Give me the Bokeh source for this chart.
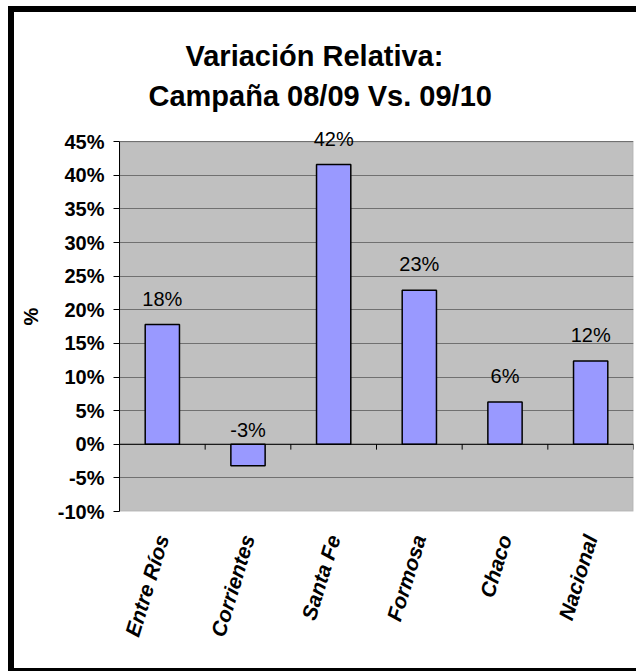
import numpy as np
from bokeh.plotting import figure
from bokeh.models import (ColumnDataSource, FactorRange, Range1d, PrintfTickFormatter,
                          FixedTicker, BoxAnnotation, Span, Title)
from bokeh.transform import dodge
from bokeh.embed import file_html
from bokeh.resources import INLINE
from bokeh.core.properties import value

# ---- data ----
categories = ["Entre Ríos", "Corrientes", "Santa Fe", "Formosa", "Chaco", "Nacional"]
variation_pct = [17.8, -3.2, 41.6, 22.9, 6.3, 12.4]
y_ticks = [-10, -5, 0, 5, 10, 15, 20, 25, 30, 35, 40, 45]
title_lines = ["Variación Relativa:", "Campaña 08/09 Vs. 09/10"]
y_label = "%"

FONT = "Liberation Sans"

vals = np.array(variation_pct, dtype=float)
labels = [f"{int(round(float(v)))}%" for v in vals]
src = ColumnDataSource(dict(
    cat=categories,
    val=vals,
    label=labels,
    label_y=np.maximum(vals, 0),
    label_off=np.where(vals >= 0, -26, -14),
))

p = figure(x_range=FactorRange(*categories), y_range=Range1d(y_ticks[0], 48),
           width=628, height=665, output_backend="svg", toolbar_location=None,
           min_border_left=105, min_border_right=9, min_border_top=109,
           min_border_bottom=166, title=title_lines[0])

p.border_fill_color = "white"
p.background_fill_color = "white"
p.outline_line_color = None
p.styles = {"border-left": "6px solid black", "border-top": "6px solid black",
            "border-bottom": "3px solid black",
            "margin-left": "8px", "margin-top": "6px"}

# titles (two lines)
p.title.text_font = FONT
p.title.text_font_size = "29px"
p.title.text_font_style = "bold"
p.title.align = "left"
p.title.offset = 66
p.title.standoff = 0
p.title.text_color = "black"
t2 = Title(text=title_lines[1], text_font=FONT, text_font_size="29px",
           text_font_style="bold", align="left", offset=29, text_color="black",
           vertical_align="top", standoff=16)
p.add_layout(t2, "above")

# plot area background (grey, -10%..45%)
p.add_layout(BoxAnnotation(bottom=y_ticks[0], top=y_ticks[-1], fill_color="#c0c0c0",
                           fill_alpha=1, line_color="#808080", line_width=1.5,
                           level="image"))

# y axis
p.yaxis.ticker = FixedTicker(ticks=y_ticks)
p.yaxis.formatter = PrintfTickFormatter(format="%d%%")
p.yaxis.bounds = (y_ticks[0], y_ticks[-1])
p.yaxis.major_label_text_font = FONT
p.yaxis.major_label_text_font_size = "20px"
p.yaxis.major_label_text_font_style = "bold"
p.yaxis.major_label_text_color = "black"
p.yaxis.major_tick_out = 6
p.yaxis.major_tick_in = 0
p.yaxis.minor_tick_line_color = None
p.yaxis.major_label_standoff = 9
p.yaxis.axis_line_color = "black"
p.yaxis.major_tick_line_color = "black"
p.yaxis.axis_label = y_label
p.yaxis.axis_label_text_font = FONT
p.yaxis.axis_label_text_font_size = "20px"
p.yaxis.axis_label_text_font_style = "bold"
p.yaxis.axis_label_text_color = "black"
p.yaxis.axis_label_standoff = 13

p.ygrid.ticker = FixedTicker(ticks=y_ticks)
p.ygrid.grid_line_color = "#707070"
p.ygrid.grid_line_width = 1
p.xgrid.visible = False

# x axis (labels only)
p.xaxis.axis_line_color = None
p.xaxis.major_tick_line_color = None
p.xaxis.major_label_orientation = np.deg2rad(73)
p.xaxis.major_label_text_font = FONT
p.xaxis.major_label_text_font_size = "21px"
p.xaxis.major_label_text_font_style = "bold italic"
p.xaxis.major_label_text_color = "black"
p.xaxis.major_label_standoff = 18

# bars
p.vbar(x="cat", top="val", bottom=0, width=0.4, source=src,
       fill_color="#9999ff", line_color="black", line_width=1.5)

# zero axis line with ticks between categories
p.add_layout(Span(location=0, dimension="width", line_color="black", line_width=1))
p.segment(x0=dodge("cat", 0.5, range=p.x_range), y0=0,
          x1=dodge("cat", 0.5, range=p.x_range), y1=-0.8,
          source=src, line_color="black", line_width=1)

# value labels
p.text(x="cat", y="label_y", text="label", y_offset="label_off", source=src,
       text_align="center", text_baseline="middle", text_font=value(FONT),
       text_font_size="20px", text_color="black")

open("out.html", "w").write(file_html(p, INLINE))
